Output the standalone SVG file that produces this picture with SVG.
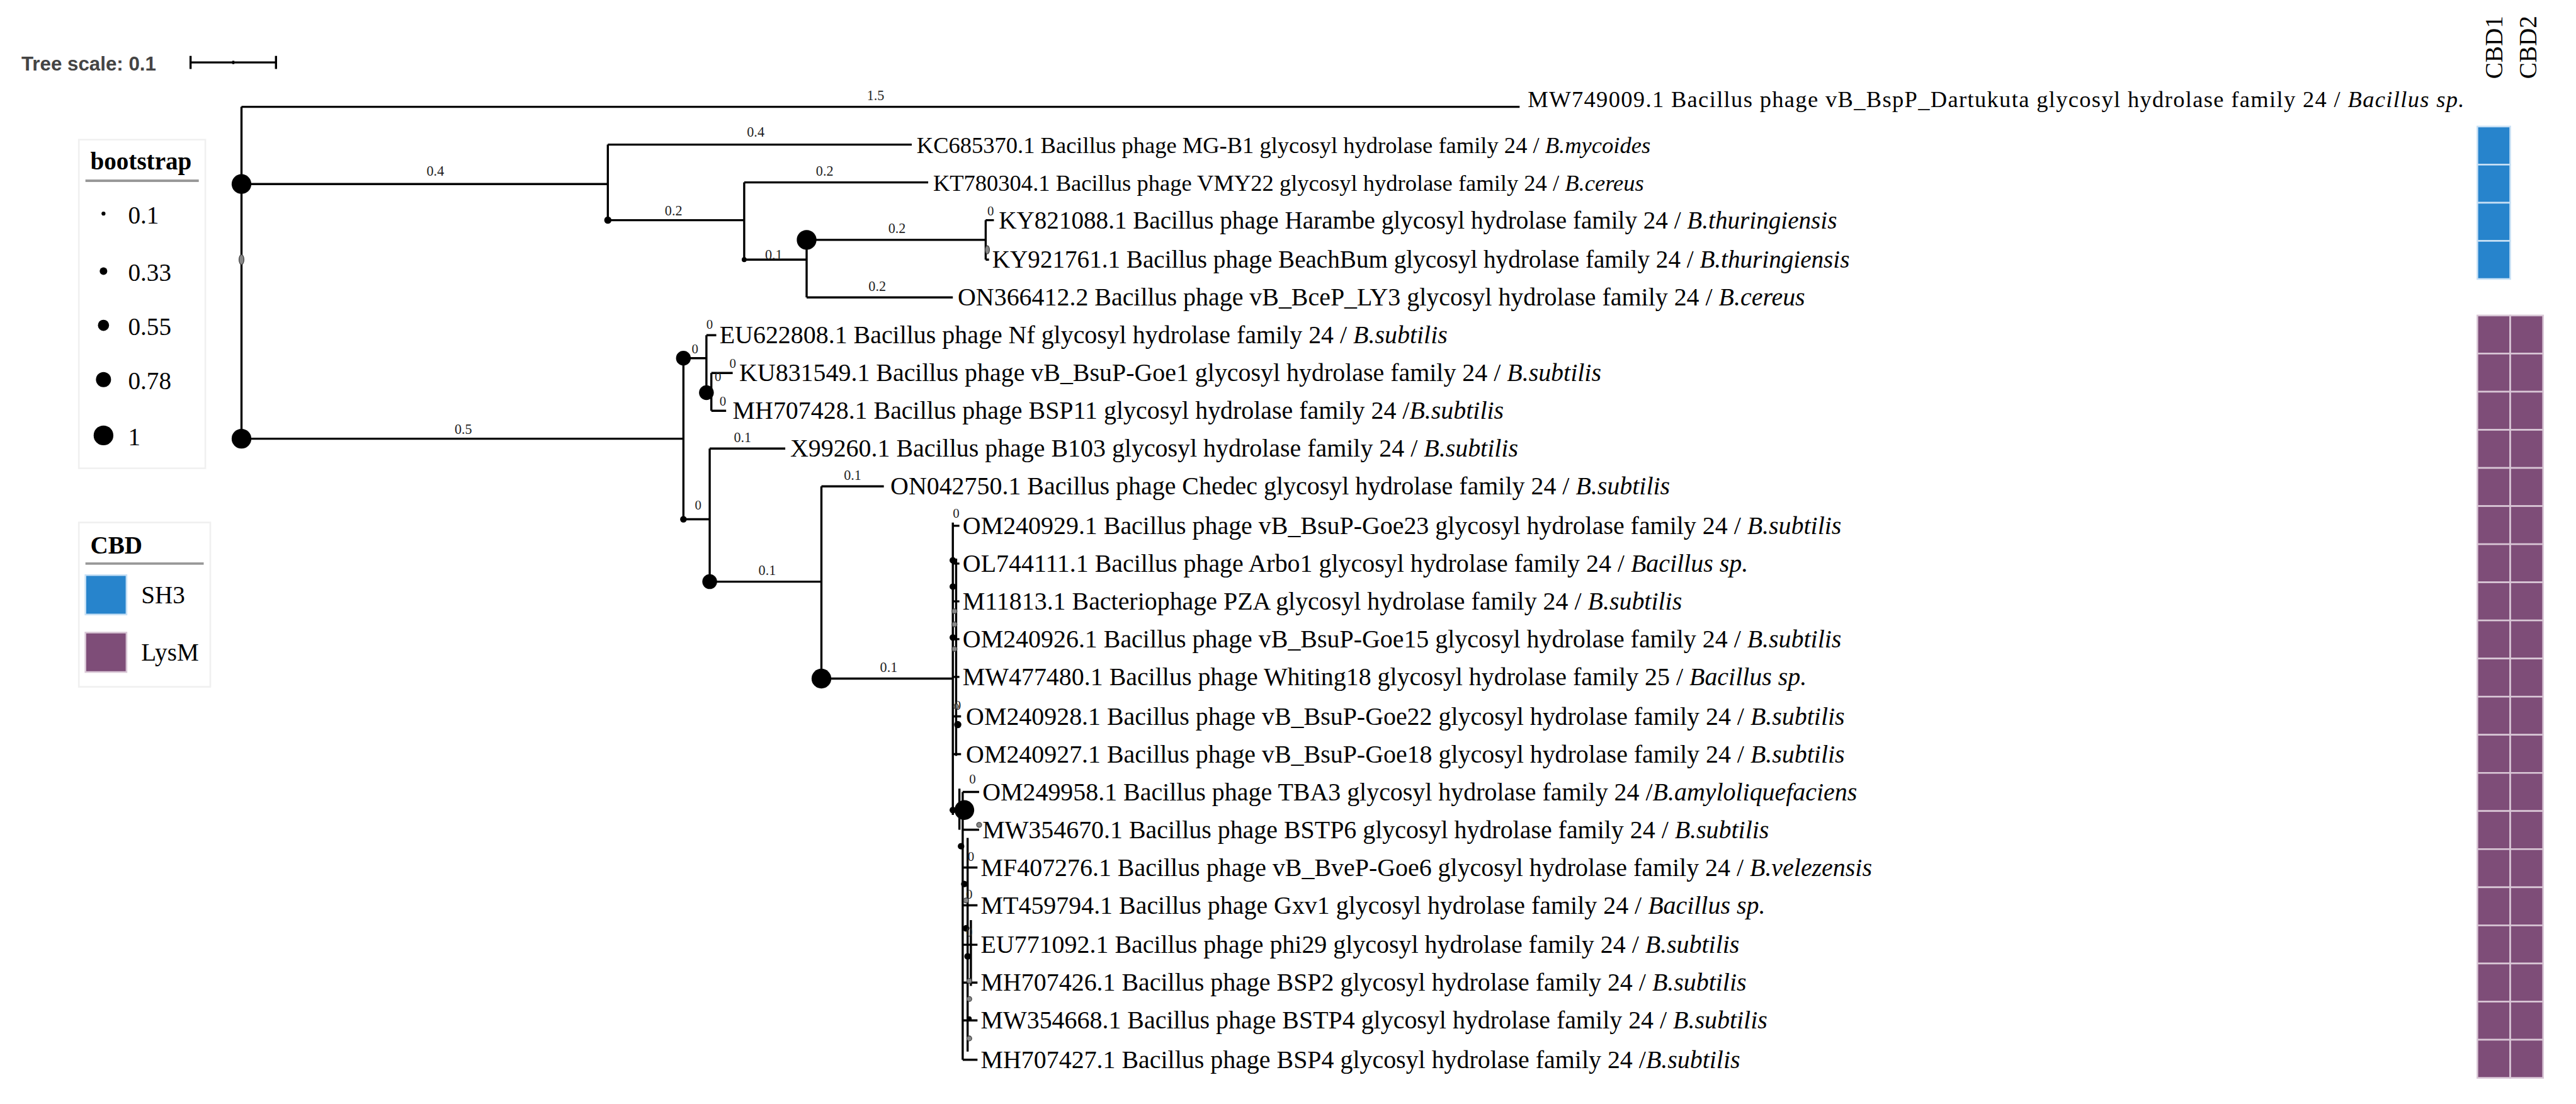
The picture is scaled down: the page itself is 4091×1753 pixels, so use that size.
<svg xmlns="http://www.w3.org/2000/svg" width="4091" height="1753" viewBox="0 0 4091 1753">
<style>
.br{stroke:#000;stroke-width:1.3;fill:none}
.lb{font-family:"Liberation Serif",serif;font-size:15.3px;fill:#000}
.sm{font-size:14px}
.bl{font-family:"Liberation Serif",serif;font-size:8.5px;fill:#222;text-anchor:middle}
.z{font-family:"Liberation Serif",serif;font-size:8px;fill:#222;text-anchor:middle}
.nd{fill:#000}
.gn{fill:#888;stroke:#444;stroke-width:0.5}
.sh3{fill:#2784cc;stroke:#c9e1f5;stroke-width:1}
.lys{fill:#7e4d78;stroke:#d9c7d6;stroke-width:1}
.lg{font-family:"Liberation Serif",serif;font-size:15px;fill:#000}
</style>
<rect width="4091" height="1753" fill="#fff"/>
<g transform="scale(2.609)">
<g id="scale">
<text x="13" y="43" font-family="Liberation Sans,sans-serif" font-size="12" font-weight="bold" fill="#444">Tree scale: 0.1</text>
<path class="br" d="M116 38H168M116 34V42M168 34V42M142 37V39"/>
</g>
<g id="legend-bootstrap">
<rect x="48" y="85" width="77" height="200" fill="#fff" stroke="#f0f0f0"/>
<text x="55" y="103" class="lg" font-weight="bold">bootstrap</text>
<line x1="52" y1="110" x2="121" y2="110" stroke="#999" stroke-width="1.5"/>
<circle cx="63" cy="130" r="1.2" class="nd"/><text x="78" y="136" class="lg">0.1</text>
<circle cx="63" cy="165" r="2.3" class="nd"/><text x="78" y="171" class="lg">0.33</text>
<circle cx="63" cy="198" r="3.4" class="nd"/><text x="78" y="204" class="lg">0.55</text>
<circle cx="63" cy="231" r="4.6" class="nd"/><text x="78" y="237" class="lg">0.78</text>
<circle cx="63" cy="265" r="6" class="nd"/><text x="78" y="271" class="lg">1</text>
</g>
<g id="legend-cbd">
<rect x="48" y="318" width="80" height="100" fill="#fff" stroke="#f0f0f0"/>
<text x="55" y="337" class="lg" font-weight="bold">CBD</text>
<line x1="52" y1="343" x2="124" y2="343" stroke="#999" stroke-width="1.5"/>
<rect x="52" y="350" width="25" height="24" class="sh3"/><text x="86" y="367" class="lg">SH3</text>
<rect x="52" y="385" width="25" height="24" class="lys"/><text x="86" y="402" class="lg">LysM</text>
</g>
<g id="connectors">
<path class="br" d="M147 65V267M147 65H925M147 112H370M370 88V134M370 88H555M370 134H453M453 111V158M453 111H565M453 158H491M491 146V181M491 146H600M600 134V158M600 134H605M600 158H602M491 181H580"/>
<path class="br" d="M147 267H416M416 218V316M416 218H430M430 204V240M430 204H436M430 240H433M433 227V250M433 227H446M433 250H442M416 316H432M432 273V354M432 273H478M432 354H500M500 296V413M500 296H538M500 413H580"/>
<path class="br" d="M580 318V496M580 320H584M580 343H584M580 366H584M580 389H584M580 412H584M580 436H585M580 459H585M580 493H586M586 482V645M586 482H596M586 505H596M586 528H595M586 551H595M586 575H595M586 598H595M586 621H595M586 645H595"/>
<path class="br" d="M582 340V460M584 480V505M589 510V640M591 560V600" stroke-width="0.8"/>
</g>
<g id="nodes">
<circle cx="147" cy="112" r="6" class="nd"/><ellipse cx="147" cy="158" rx="1.5" ry="3" class="gn"/><circle cx="147" cy="267" r="6" class="nd"/>
<circle cx="370" cy="134" r="2.2" class="nd"/><circle cx="453" cy="158" r="1.5" class="nd"/><circle cx="491" cy="146" r="6" class="nd"/>
<ellipse cx="601" cy="152" rx="1.3" ry="2.5" class="gn"/>
<circle cx="416" cy="218" r="4.5" class="nd"/><circle cx="430" cy="239" r="4.5" class="nd"/><circle cx="416" cy="316" r="2" class="nd"/>
<circle cx="432" cy="354" r="4.5" class="nd"/><circle cx="500" cy="413" r="6" class="nd"/>
<circle cx="580" cy="341" r="2" class="nd"/><circle cx="580" cy="357" r="2" class="nd"/><circle cx="581" cy="372" r="1.5" class="gn"/><circle cx="581" cy="380" r="1.5" class="gn"/><circle cx="580" cy="388" r="2" class="nd"/><circle cx="581" cy="395" r="1.5" class="gn"/>
<circle cx="582" cy="430" r="1.5" class="gn"/><circle cx="583" cy="441" r="2.2" class="nd"/><circle cx="580" cy="493" r="2" class="nd"/>
<circle cx="587" cy="493" r="6" class="nd"/><circle cx="596" cy="502" r="1.5" class="gn"/><circle cx="585" cy="515" r="2" class="nd"/><circle cx="587" cy="538" r="2" class="nd"/><circle cx="588" cy="548" r="1.5" class="gn"/>
<circle cx="588" cy="565" r="2" class="nd"/><circle cx="589" cy="582" r="2" class="nd"/><circle cx="590" cy="597" r="1.5" class="gn"/><circle cx="590" cy="608" r="1.5" class="gn"/><circle cx="590" cy="620" r="1.5" class="nd"/><circle cx="590" cy="632" r="1.5" class="gn"/>
</g>
<g id="branch-labels">
<text x="533" y="61" class="bl">1.5</text><text x="265" y="107" class="bl">0.4</text><text x="460" y="83" class="bl">0.4</text>
<text x="410" y="131" class="bl">0.2</text><text x="502" y="107" class="bl">0.2</text><text x="471" y="158" class="bl">0.1</text>
<text x="546" y="142" class="bl">0.2</text><text x="534" y="177" class="bl">0.2</text><text x="603" y="131" class="z">0</text>
<text x="282" y="264" class="bl">0.5</text><text x="423" y="215" class="z">0</text><text x="432" y="200" class="z">0</text>
<text x="446" y="224" class="z">0</text><text x="437" y="232" class="z">0</text><text x="440" y="247" class="z">0</text>
<text x="452" y="269" class="bl">0.1</text><text x="425" y="310" class="z">0</text><text x="467" y="350" class="bl">0.1</text>
<text x="519" y="292" class="bl">0.1</text><text x="541" y="409" class="bl">0.1</text>
<text x="582" y="315" class="z">0</text><text x="583" y="432" class="z">0</text><text x="592" y="477" class="z">0</text><text x="591" y="524" class="z">0</text><text x="590" y="547" class="z">0</text><text x="590" y="570" class="z">0</text>
</g>
<g id="labels" class="lb">
<text x="930" y="65" class="sm" textLength="570" lengthAdjust="spacing">MW749009.1 Bacillus phage vB_BspP_Dartukuta glycosyl hydrolase family 24 / <tspan font-style="italic">Bacillus sp.</tspan></text>
<text x="558" y="93" class="sm">KC685370.1 Bacillus phage MG-B1 glycosyl hydrolase family 24 / <tspan font-style="italic">B.mycoides</tspan></text>
<text x="568" y="116" class="sm">KT780304.1 Bacillus phage VMY22 glycosyl hydrolase family 24 / <tspan font-style="italic">B.cereus</tspan></text>
<text x="608" y="139" style="font-size:15px">KY821088.1 Bacillus phage Harambe glycosyl hydrolase family 24 / <tspan font-style="italic">B.thuringiensis</tspan></text>
<text x="604" y="163" style="font-size:15px">KY921761.1 Bacillus phage BeachBum glycosyl hydrolase family 24 / <tspan font-style="italic">B.thuringiensis</tspan></text>
<text x="583" y="186">ON366412.2 Bacillus phage vB_BceP_LY3 glycosyl hydrolase family 24 / <tspan font-style="italic">B.cereus</tspan></text>
<text x="438" y="209">EU622808.1 Bacillus phage Nf glycosyl hydrolase family 24 / <tspan font-style="italic">B.subtilis</tspan></text>
<text x="450" y="232">KU831549.1 Bacillus phage vB_BsuP-Goe1 glycosyl hydrolase family 24 / <tspan font-style="italic">B.subtilis</tspan></text>
<text x="446" y="255">MH707428.1 Bacillus phage BSP11 glycosyl hydrolase family 24 /<tspan font-style="italic">B.subtilis</tspan></text>
<text x="481" y="278">X99260.1 Bacillus phage B103 glycosyl hydrolase family 24 / <tspan font-style="italic">B.subtilis</tspan></text>
<text x="542" y="301">ON042750.1 Bacillus phage Chedec glycosyl hydrolase family 24 / <tspan font-style="italic">B.subtilis</tspan></text>
<text x="586" y="325">OM240929.1 Bacillus phage vB_BsuP-Goe23 glycosyl hydrolase family 24 / <tspan font-style="italic">B.subtilis</tspan></text>
<text x="586" y="348">OL744111.1 Bacillus phage Arbo1 glycosyl hydrolase family 24 / <tspan font-style="italic">Bacillus sp.</tspan></text>
<text x="586" y="371">M11813.1 Bacteriophage PZA glycosyl hydrolase family 24 / <tspan font-style="italic">B.subtilis</tspan></text>
<text x="586" y="394">OM240926.1 Bacillus phage vB_BsuP-Goe15 glycosyl hydrolase family 24 / <tspan font-style="italic">B.subtilis</tspan></text>
<text x="586" y="417">MW477480.1 Bacillus phage Whiting18 glycosyl hydrolase family 25 / <tspan font-style="italic">Bacillus sp.</tspan></text>
<text x="588" y="441">OM240928.1 Bacillus phage vB_BsuP-Goe22 glycosyl hydrolase family 24 / <tspan font-style="italic">B.subtilis</tspan></text>
<text x="588" y="464">OM240927.1 Bacillus phage vB_BsuP-Goe18 glycosyl hydrolase family 24 / <tspan font-style="italic">B.subtilis</tspan></text>
<text x="598" y="487">OM249958.1 Bacillus phage TBA3 glycosyl hydrolase family 24 /<tspan font-style="italic">B.amyloliquefaciens</tspan></text>
<text x="598" y="510">MW354670.1 Bacillus phage BSTP6 glycosyl hydrolase family 24 / <tspan font-style="italic">B.subtilis</tspan></text>
<text x="597" y="533">MF407276.1 Bacillus phage vB_BveP-Goe6 glycosyl hydrolase family 24 / <tspan font-style="italic">B.velezensis</tspan></text>
<text x="597" y="556">MT459794.1 Bacillus phage Gxv1 glycosyl hydrolase family 24 / <tspan font-style="italic">Bacillus sp.</tspan></text>
<text x="597" y="580">EU771092.1 Bacillus phage phi29 glycosyl hydrolase family 24 / <tspan font-style="italic">B.subtilis</tspan></text>
<text x="597" y="603">MH707426.1 Bacillus phage BSP2 glycosyl hydrolase family 24 / <tspan font-style="italic">B.subtilis</tspan></text>
<text x="597" y="626">MW354668.1 Bacillus phage BSTP4 glycosyl hydrolase family 24 / <tspan font-style="italic">B.subtilis</tspan></text>
<text x="597" y="650">MH707427.1 Bacillus phage BSP4 glycosyl hydrolase family 24 /<tspan font-style="italic">B.subtilis</tspan></text>
</g>
<g id="heatmap">
<text transform="translate(1523 48) rotate(-90)" class="lg">CBD1</text>
<text transform="translate(1544 48) rotate(-90)" class="lg">CBD2</text>
<rect x="1508" y="77" width="20" height="23.2" class="sh3"/>
<rect x="1508" y="100.2" width="20" height="23.2" class="sh3"/>
<rect x="1508" y="123.4" width="20" height="23.2" class="sh3"/>
<rect x="1508" y="146.6" width="20" height="23.2" class="sh3"/>
<g id="lysm">
<rect x="1508" y="192" width="20" height="23.2" class="lys"/><rect x="1528" y="192" width="20" height="23.2" class="lys"/>
<rect x="1508" y="215.2" width="20" height="23.2" class="lys"/><rect x="1528" y="215.2" width="20" height="23.2" class="lys"/>
<rect x="1508" y="238.4" width="20" height="23.2" class="lys"/><rect x="1528" y="238.4" width="20" height="23.2" class="lys"/>
<rect x="1508" y="261.6" width="20" height="23.2" class="lys"/><rect x="1528" y="261.6" width="20" height="23.2" class="lys"/>
<rect x="1508" y="284.8" width="20" height="23.2" class="lys"/><rect x="1528" y="284.8" width="20" height="23.2" class="lys"/>
<rect x="1508" y="308" width="20" height="23.2" class="lys"/><rect x="1528" y="308" width="20" height="23.2" class="lys"/>
<rect x="1508" y="331.2" width="20" height="23.2" class="lys"/><rect x="1528" y="331.2" width="20" height="23.2" class="lys"/>
<rect x="1508" y="354.4" width="20" height="23.2" class="lys"/><rect x="1528" y="354.4" width="20" height="23.2" class="lys"/>
<rect x="1508" y="377.6" width="20" height="23.2" class="lys"/><rect x="1528" y="377.6" width="20" height="23.2" class="lys"/>
<rect x="1508" y="400.8" width="20" height="23.2" class="lys"/><rect x="1528" y="400.8" width="20" height="23.2" class="lys"/>
<rect x="1508" y="424" width="20" height="23.2" class="lys"/><rect x="1528" y="424" width="20" height="23.2" class="lys"/>
<rect x="1508" y="447.2" width="20" height="23.2" class="lys"/><rect x="1528" y="447.2" width="20" height="23.2" class="lys"/>
<rect x="1508" y="470.4" width="20" height="23.2" class="lys"/><rect x="1528" y="470.4" width="20" height="23.2" class="lys"/>
<rect x="1508" y="493.6" width="20" height="23.2" class="lys"/><rect x="1528" y="493.6" width="20" height="23.2" class="lys"/>
<rect x="1508" y="516.8" width="20" height="23.2" class="lys"/><rect x="1528" y="516.8" width="20" height="23.2" class="lys"/>
<rect x="1508" y="540" width="20" height="23.2" class="lys"/><rect x="1528" y="540" width="20" height="23.2" class="lys"/>
<rect x="1508" y="563.2" width="20" height="23.2" class="lys"/><rect x="1528" y="563.2" width="20" height="23.2" class="lys"/>
<rect x="1508" y="586.4" width="20" height="23.2" class="lys"/><rect x="1528" y="586.4" width="20" height="23.2" class="lys"/>
<rect x="1508" y="609.6" width="20" height="23.2" class="lys"/><rect x="1528" y="609.6" width="20" height="23.2" class="lys"/>
<rect x="1508" y="632.8" width="20" height="23.2" class="lys"/><rect x="1528" y="632.8" width="20" height="23.2" class="lys"/>
</g>
</g>
</g>
</svg>
